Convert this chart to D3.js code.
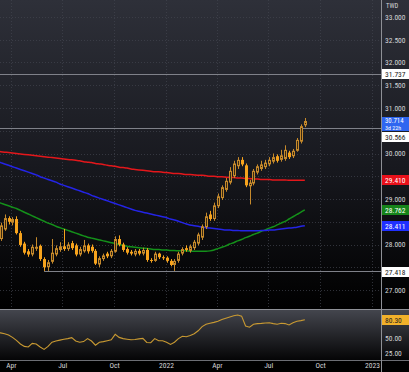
<!DOCTYPE html>
<html lang="en">
<head>
  <meta charset="UTF-8">
  <title>USD/TWD weekly</title>
  <script src="https://cdn.jsdelivr.net/npm/d3@7"></script>
  <style>
    html, body { margin: 0; padding: 0; background: #000; }
    svg { display: block; }
    text { font-family: "Liberation Sans Narrow", "Roboto Condensed", Roboto, sans-serif; }
  </style>
</head>
<body>
  <div id="chart"></div>
  <script>
    // weekly candles, Feb 28 2021 .. Sep 4 2022 (one per Sunday)
    const weeks = d3.timeSunday.range(new Date(2021, 1, 28), new Date(2022, 8, 5));

    const open = [28.20,28.30,28.12,28.33,28.58,28.48,28.56,28.25,28.02,27.85,
                  27.78,27.92,27.97,27.68,27.50,27.62,27.78,27.88,27.96,27.90,
                  28.03,27.98,27.78,27.85,27.98,27.95,27.86,27.56,27.68,27.80,
                  27.74,27.84,28.12,28.00,27.90,27.84,27.78,27.86,27.80,27.88,
                  27.66,27.64,27.80,27.72,27.71,27.64,27.55,27.64,27.80,27.92,
                  27.86,27.92,28.02,28.15,28.38,28.66,28.56,28.84,29.02,29.20,
                  29.36,29.50,29.72,29.86,29.74,29.28,29.34,29.58,29.66,29.70,
                  29.76,29.82,29.94,29.86,29.88,30.02,29.94,30.06,30.26,30.62];
    const high = [28.40,28.45,28.48,28.66,28.62,28.60,28.62,28.30,28.06,27.90,
                  28.00,28.16,28.00,27.72,27.66,28.12,27.98,28.05,28.34,28.05,
                  28.08,28.02,27.95,28.10,28.02,28.00,27.90,27.74,27.80,27.84,
                  27.90,28.18,28.20,28.04,27.94,27.88,27.90,27.90,27.93,27.92,
                  27.70,27.84,27.82,27.76,27.74,27.68,27.68,27.84,27.94,27.98,
                  28.00,28.10,28.26,28.44,28.70,28.74,28.92,29.12,29.30,29.46,
                  29.70,29.84,29.92,29.92,29.78,29.42,29.66,29.76,29.84,29.86,
                  29.92,30.00,29.98,30.08,30.18,30.06,30.10,30.34,30.64,30.78];
    const low  = [28.12,28.15,28.08,28.30,28.44,28.42,28.22,27.95,27.78,27.73,
                  27.74,27.86,27.64,27.42,27.42,27.58,27.74,27.84,27.86,27.86,
                  27.88,27.74,27.74,27.82,27.80,27.82,27.55,27.50,27.64,27.70,
                  27.70,27.82,27.96,27.84,27.78,27.76,27.74,27.76,27.76,27.62,
                  27.60,27.62,27.68,27.66,27.60,27.52,27.42,27.60,27.76,27.84,
                  27.82,27.88,27.98,28.10,28.34,28.52,28.52,28.80,28.98,29.16,
                  29.32,29.46,29.66,29.72,29.26,28.88,29.30,29.54,29.62,29.66,
                  29.72,29.78,29.80,29.82,29.84,29.88,29.90,30.04,30.22,30.58];
    const close = [28.30,28.20,28.42,28.58,28.50,28.56,28.25,27.99,27.82,27.78,
                   27.95,27.95,27.68,27.50,27.61,27.82,27.92,27.96,27.90,28.00,
                   27.92,27.78,27.90,27.98,27.85,27.86,27.58,27.70,27.76,27.74,
                   27.86,28.12,28.00,27.88,27.82,27.80,27.86,27.80,27.88,27.66,
                   27.64,27.80,27.72,27.71,27.64,27.55,27.64,27.80,27.90,27.88,
                   27.96,28.06,28.22,28.40,28.62,28.56,28.86,29.06,29.26,29.40,
                   29.62,29.78,29.86,29.76,29.30,29.36,29.62,29.72,29.76,29.80,
                   29.86,29.92,29.84,29.96,30.08,29.92,30.06,30.30,30.60,30.714];

    // moving averages (red, blue, green), one value per week
    const maRed = [30.06,30.05,30.04,30.03,30.02,30.01,30.00,29.99,29.98,29.97,
                   29.96,29.95,29.94,29.93,29.92,29.91,29.90,29.89,29.88,29.87,
                   29.86,29.85,29.84,29.82,29.81,29.80,29.78,29.77,29.76,29.74,
                   29.73,29.72,29.70,29.69,29.68,29.66,29.65,29.64,29.63,29.62,
                   29.61,29.60,29.60,29.59,29.58,29.57,29.56,29.56,29.55,29.54,
                   29.54,29.53,29.52,29.52,29.51,29.50,29.50,29.49,29.49,29.48,
                   29.47,29.47,29.46,29.46,29.45,29.45,29.44,29.44,29.43,29.43,
                   29.43,29.42,29.42,29.42,29.42,29.41,29.41,29.41,29.41,29.41];
    const maBlue = [29.86,29.83,29.80,29.77,29.74,29.71,29.68,29.65,29.62,29.59,
                    29.56,29.53,29.49,29.46,29.43,29.40,29.37,29.33,29.30,29.27,
                    29.24,29.21,29.18,29.15,29.12,29.08,29.05,29.02,28.99,28.96,
                    28.93,28.90,28.87,28.84,28.81,28.78,28.75,28.73,28.71,28.69,
                    28.67,28.65,28.63,28.61,28.59,28.56,28.54,28.51,28.48,28.45,
                    28.43,28.41,28.40,28.38,28.37,28.36,28.35,28.34,28.33,28.32,
                    28.32,28.31,28.31,28.30,28.30,28.30,28.30,28.30,28.31,28.31,
                    28.32,28.32,28.33,28.34,28.35,28.36,28.37,28.38,28.40,28.411];
    const maGreen = [28.97,28.94,28.91,28.88,28.85,28.82,28.79,28.75,28.71,28.67,
                     28.63,28.59,28.55,28.51,28.47,28.44,28.40,28.37,28.34,28.31,
                     28.28,28.25,28.22,28.19,28.16,28.14,28.12,28.10,28.08,28.06,
                     28.04,28.02,28.00,27.98,27.96,27.95,27.94,27.93,27.92,27.91,
                     27.90,27.89,27.89,27.88,27.88,27.87,27.87,27.86,27.86,27.86,
                     27.85,27.85,27.85,27.85,27.85,27.86,27.88,27.91,27.94,27.97,
                     28.01,28.04,28.08,28.11,28.15,28.18,28.22,28.25,28.29,28.32,
                     28.36,28.39,28.43,28.47,28.51,28.56,28.61,28.66,28.71,28.762];

    // RSI, one value per week
    const rsi = [60,59,58.5,57,55,51,46,40,36,35,
                 41,40,35,31,36,43,45,46.5,48,49,
                 50.5,45,43,44,49,45,38,43,44,45.5,
                 47,56,51,49,48,47,47.5,48.6,49.4,42.5,
                 42.2,49,45.5,45.5,43,39.4,43,49,53,52,
                 54,57,62,69,73,74.5,76,78,81,83,
                 85,87,88.3,86.5,70,68,73,74,74.4,75,
                 75.5,74,73,74.5,74,71.7,75.5,78,79,80.3];

    // horizontal levels; the support line starts at the May 2021 low
    const levels = [31.737, 30.566, 27.418];
    const levelStart = [null, null, "2021-05-30"];

    const priceTicks = [27, 27.5, 28, 28.5, 29, 29.5, 30, 30.5, 31, 31.5, 32, 32.5, 33];
    const rsiTicks = [25, 50, 75];
    const monthTicks = ["2021-04-01","2021-07-01","2021-10-01","2022-01-01","2022-04-01","2022-07-01","2022-10-01","2023-01-01"];
    const monthLabels = ["Apr","Jul","Oct","2022","Apr","Jul","Oct","2023"];

    const W = 409, H = 372;
    const plotRight = 381, priceBottom = 308, rsiTop = 309, rsiBottom = 360;
    const parse = d3.timeParse("%Y-%m-%d");

    const x = d3.scaleTime().domain([parse("2022-01-01"), parse("2023-01-01")]).range([166, 372]);
    const y = d3.scaleLinear().domain([27, 33]).range([290, 17]);
    const yR = d3.scaleLinear().domain([25, 50]).range([353, 338]);

    const last = close[close.length - 1];
    const lastTop = Math.round(y(last)) - 4;
    // centres of the value tags on the right axis (used to hide covered tick labels)
    const priceTagY = [y(levels[0]), y(levels[2]) + 1, y(maRed[maRed.length - 1]),
                       y(maGreen[maGreen.length - 1]), y(maBlue[maBlue.length - 1]),
                       lastTop + 7, Math.max(y(levels[1]), lastTop + 20)];
    const rsiTagY = [yR(rsi[rsi.length - 1])];
    const free = (tags, v, sc) => tags.every(t => Math.abs(sc(v) - t) > 8);

    const svg = d3.select("#chart").append("svg")
      .attr("width", W).attr("height", H);

    const defs = svg.append("defs");
    const g1 = defs.append("linearGradient").attr("id", "bgPrice")
      .attr("x1", 0).attr("y1", 0).attr("x2", 0).attr("y2", 1);
    g1.append("stop").attr("offset", "0%").attr("stop-color", "#2e3039");
    g1.append("stop").attr("offset", "55%").attr("stop-color", "#17181e");
    g1.append("stop").attr("offset", "100%").attr("stop-color", "#000");
    const g2 = defs.append("linearGradient").attr("id", "bgRsi")
      .attr("x1", 0).attr("y1", 0).attr("x2", 0).attr("y2", 1);
    g2.append("stop").attr("offset", "0%").attr("stop-color", "#45474f");
    g2.append("stop").attr("offset", "100%").attr("stop-color", "#050506");
    defs.append("clipPath").attr("id", "clipPrice")
      .append("rect").attr("x", 0).attr("y", 0).attr("width", plotRight).attr("height", priceBottom);
    defs.append("clipPath").attr("id", "clipRsi")
      .append("rect").attr("x", 0).attr("y", rsiTop).attr("width", plotRight).attr("height", rsiBottom - rsiTop);

    // backgrounds
    svg.append("rect").attr("width", W).attr("height", H).attr("fill", "#000");
    svg.append("rect").attr("width", W).attr("height", priceBottom).attr("fill", "url(#bgPrice)");
    svg.append("rect").attr("y", rsiTop).attr("width", W).attr("height", rsiBottom - rsiTop).attr("fill", "url(#bgRsi)");

    // grid
    const grid = svg.append("g").attr("clip-path", "url(#clipPrice)");
    grid.selectAll("line.h").data(priceTicks).enter().append("line")
      .attr("x1", 0).attr("x2", plotRight)
      .attr("y1", d => Math.round(y(d)) + 0.5).attr("y2", d => Math.round(y(d)) + 0.5)
      .attr("stroke", "#41444f").attr("stroke-dasharray", "1,2").attr("stroke-opacity", 0.7);
    grid.selectAll("line.v").data(monthTicks).enter().append("line")
      .attr("x1", d => Math.round(x(parse(d))) + 0.5).attr("x2", d => Math.round(x(parse(d))) + 0.5)
      .attr("y1", 0).attr("y2", priceBottom)
      .attr("stroke", "#41444f").attr("stroke-dasharray", "1,2").attr("stroke-opacity", 0.7);

    // panel borders
    svg.append("line").attr("x1", 0).attr("x2", W).attr("y1", rsiTop + 0.5).attr("y2", rsiTop + 0.5)
      .attr("stroke", "#8e9096");
    svg.append("line").attr("x1", 0).attr("x2", W).attr("y1", rsiBottom + 0.5).attr("y2", rsiBottom + 0.5)
      .attr("stroke", "#6c6e74");
    svg.append("line").attr("x1", plotRight + 0.5).attr("x2", plotRight + 0.5).attr("y1", 0).attr("y2", H)
      .attr("stroke", "#8e9096");

    const plot = svg.append("g").attr("clip-path", "url(#clipPrice)");

    // levels
    plot.selectAll("line.level").data(levels).enter().append("line")
      .attr("x1", (d, i) => levelStart[i] ? x(parse(levelStart[i])) : 0)
      .attr("x2", plotRight)
      .attr("y1", d => Math.round(y(d)) + 0.5).attr("y2", d => Math.round(y(d)) + 0.5)
      .attr("stroke", "#7f8189").attr("stroke-width", 1);

    // moving averages
    const maLine = arr => d3.line().x((d, i) => x(weeks[i])).y(d => y(d)).curve(d3.curveMonotoneX)(arr);
    [[maGreen, "#14901a"], [maBlue, "#2424e6"], [maRed, "#e4171b"]].forEach(([arr, col]) => {
      plot.append("path").attr("d", maLine(arr))
        .attr("fill", "none").attr("stroke", col).attr("stroke-width", 1.5);
    });

    // candles
    const bars = weeks.map((d, i) => ({date: d, o: open[i], h: high[i], l: low[i], c: close[i]}));
    const upStroke = "#c68a2c", upFill = "#3a2a12", downFill = "#f6a31d";
    const cg = plot.append("g");
    cg.selectAll("line.wick").data(bars).enter().append("line")
      .attr("x1", d => Math.round(x(d.date)) + 0.5).attr("x2", d => Math.round(x(d.date)) + 0.5)
      .attr("y1", d => y(d.h)).attr("y2", d => y(d.l))
      .attr("stroke", d => d.c >= d.o ? upStroke : downFill).attr("stroke-width", 1);
    cg.selectAll("rect.body").data(bars).enter().append("rect")
      .attr("x", d => d.c >= d.o ? Math.round(x(d.date)) - 0.5 : Math.round(x(d.date)) - 1)
      .attr("width", d => d.c >= d.o ? 2 : 3)
      .attr("y", d => y(Math.max(d.o, d.c)) + (d.c >= d.o ? 0.5 : 0))
      .attr("height", d => Math.max(1, y(Math.min(d.o, d.c)) - y(Math.max(d.o, d.c)) - (d.c >= d.o ? 1 : 0)))
      .attr("fill", d => d.c >= d.o ? upFill : downFill)
      .attr("stroke", d => d.c >= d.o ? upStroke : "none")
      .attr("stroke-width", 1);

    // RSI
    svg.append("g").attr("clip-path", "url(#clipRsi)")
      .append("path")
      .attr("d", d3.line().x((d, i) => x(weeks[i])).y(d => yR(d))(rsi))
      .attr("fill", "none").attr("stroke", "#c99a32").attr("stroke-width", 1.1);

    // axes (tick labels hidden where a value tag covers them)
    const axisFont = g => {
      g.select(".domain").remove();
      g.selectAll("text").attr("fill", "#d6d6d8").attr("font-size", 7.5);
    };
    svg.append("g").attr("transform", `translate(${plotRight + 4},0)`)
      .call(d3.axisRight(y).tickValues(priceTicks.filter(v => free(priceTagY, v, y)))
        .tickFormat(d3.format(".3f")).tickSize(0).tickPadding(0))
      .call(axisFont);
    svg.append("g").attr("transform", `translate(${plotRight + 4},0)`)
      .call(d3.axisRight(yR).tickValues(rsiTicks.filter(v => free(rsiTagY, v, yR)))
        .tickFormat(d3.format(".2f")).tickSize(0).tickPadding(0))
      .call(axisFont);
    svg.append("g").attr("transform", `translate(0,${rsiBottom + 1})`)
      .call(d3.axisBottom(x).tickValues(monthTicks.map(parse)).tickFormat((d, i) => monthLabels[i]).tickSize(0).tickPadding(2))
      .call(axisFont);
    svg.append("text").attr("x", plotRight + 5).attr("y", 8)
      .attr("fill", "#d6d6d8").attr("font-size", 6.5).text("TWD");

    // value tags on the right axis
    const tagX = plotRight + 1, tagW = W - plotRight - 1, tagH = 10;
    const tag = (cy, value, bg, fg, fmt) => {
      svg.append("rect").attr("x", tagX).attr("y", Math.round(cy - tagH / 2)).attr("width", tagW).attr("height", tagH).attr("fill", bg);
      svg.append("text").attr("x", plotRight + 4).attr("y", Math.round(cy - tagH / 2) + 7.8)
        .attr("fill", fg).attr("font-size", 7.5).text(d3.format(fmt)(value));
    };
    tag(priceTagY[0], levels[0], "#ffffff", "#202020", ".3f");
    tag(priceTagY[1], levels[2], "#ffffff", "#202020", ".3f");
    tag(priceTagY[2], maRed[maRed.length - 1], "#e8101a", "#ffffff", ".3f");
    tag(priceTagY[3], maGreen[maGreen.length - 1], "#16841a", "#ffffff", ".3f");
    tag(priceTagY[4], maBlue[maBlue.length - 1], "#2030ff", "#ffffff", ".3f");
    tag(rsiTagY[0], rsi[rsi.length - 1], "#f2b12a", "#202020", ".2f");

    // last price tag with time to close, level tag pushed below it
    svg.append("rect").attr("x", tagX).attr("y", lastTop).attr("width", tagW).attr("height", 14).attr("fill", "#2f66f0");
    svg.append("text").attr("x", plotRight + 4).attr("y", lastTop + 6.3)
      .attr("fill", "#ffffff").attr("font-size", 6.8).text(d3.format(".3f")(last));
    svg.append("text").attr("x", plotRight + 4).attr("y", lastTop + 13)
      .attr("fill", "#ffffff").attr("font-size", 6).text("3d 22h");
    tag(priceTagY[6], levels[1], "#ffffff", "#202020", ".3f");
  </script>
</body>
</html>
